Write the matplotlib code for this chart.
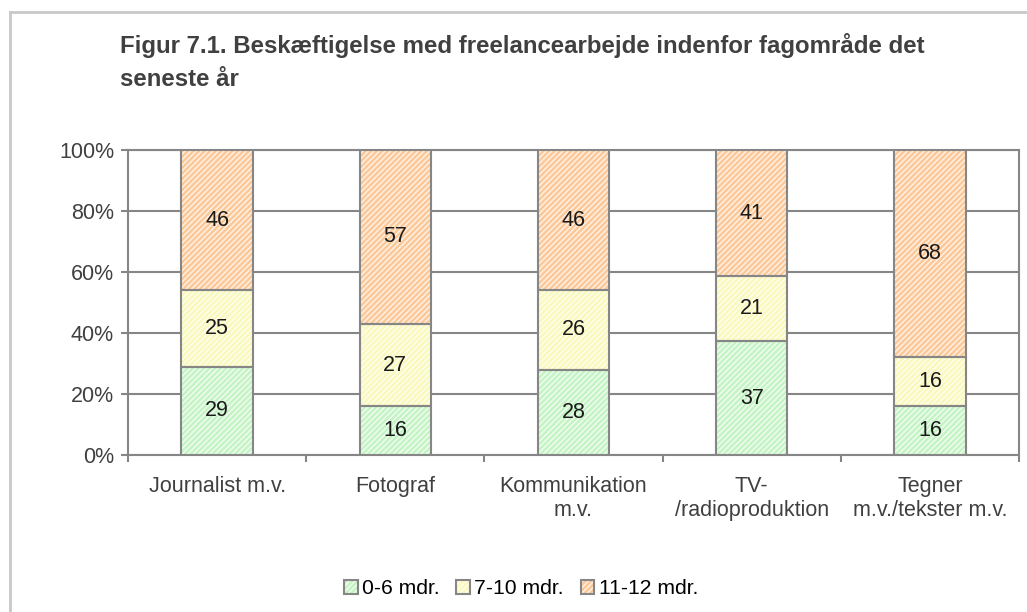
import numpy as np
import matplotlib.pyplot as plt
from matplotlib.lines import Line2D
from matplotlib.patches import Patch
from matplotlib.legend_handler import HandlerTuple

plt.rcParams['font.family'] = ['Liberation Sans', 'DejaVu Sans']
plt.rcParams['hatch.linewidth'] = 1.8

# data
categories = ['Journalist m.v.', 'Fotograf', 'Kommunikation\nm.v.', 'TV-\n/radioproduktion', 'Tegner\nm.v./tekster m.v.']
series = ['0-6 mdr.', '7-10 mdr.', '11-12 mdr.']
v_0_6 = [29, 16, 28, 37, 16]
v_7_10 = [25, 27, 26, 21, 16]
v_11_12 = [46, 57, 46, 41, 68]
hatch_colors = ['#c4f4c4', '#f9f9bc', '#fcc898']
base_colors = ['#f2fdf2', '#fefef2', '#fff3e8']

values = np.array([v_0_6, v_7_10, v_11_12], dtype=float)
shares = values / values.sum(axis=0) * 100  # 100% stacked

fig = plt.figure(figsize=(10.27, 6.12), dpi=100)
ax = fig.add_axes([128/1027, 1 - 455/612, (1019 - 128)/1027, (455 - 150)/612])

x = np.arange(len(categories))
gray = '#868686'
bottom = np.zeros(len(categories))
for i in range(3):
    ax.bar(x, shares[i], 0.4, bottom=bottom, color=base_colors[i], edgecolor=hatch_colors[i],
           hatch='//////', linewidth=0, zorder=3)
    ax.bar(x, shares[i], 0.4, bottom=bottom, fill=False, edgecolor=gray, linewidth=1.5, zorder=4)
    for xi, b, s, v in zip(x, bottom, shares[i], values[i]):
        ax.text(xi, b + s / 2, '%d' % v, ha='center', va='center', fontsize=15.5, color='#1a1a1a', zorder=5)
    bottom += shares[i]

ax.set_xlim(-0.5, len(categories) - 0.5)
ax.set_ylim(0, 100)
ax.set_yticks(np.arange(0, 101, 20))
ax.set_yticklabels(['%d%%' % t for t in range(0, 101, 20)])
ax.yaxis.grid(True, color=gray, linewidth=1.5, zorder=0)
ax.set_axisbelow(True)
for sp in ax.spines.values():
    sp.set_color(gray)
    sp.set_linewidth(1.5)
ax.set_xticks(x)
ax.set_xticklabels(categories)
ax.set_xticks(np.arange(-0.5, len(categories)), minor=True)
ax.tick_params(axis='x', which='major', length=0, pad=15, labelsize=15.5, labelcolor='#404040')
ax.tick_params(axis='x', which='minor', length=5, width=1.5, color=gray)
ax.tick_params(axis='y', length=5, width=1.5, color=gray, labelsize=15.5, labelcolor='#404040', pad=5)

fig.text(120/1027, 1 - 62/612, 'Figur 7.1. Beskæftigelse med freelancearbejde indenfor fagområde det\nseneste år',
         fontsize=17.3, fontweight='bold', color='#404040', ha='left', va='center', linespacing=1.55)

handles = []
for i in range(3):
    fill = Patch(facecolor=base_colors[i], edgecolor=hatch_colors[i], hatch='//////', linewidth=0)
    edge = Patch(facecolor='none', edgecolor=gray, linewidth=1.5)
    handles.append((fill, edge))
fig.legend(handles, series, loc='center', bbox_to_anchor=(521/1027, 1 - 589/612), ncol=3,
           frameon=False, fontsize=15.2, handlelength=0.65, handleheight=0.65, handletextpad=0.2,
           columnspacing=0.8, handler_map={tuple: HandlerTuple(ndivide=1, pad=0)})

# outer chart border (cropped on right and bottom)
fig.add_artist(Line2D([10/1027, 10/1027], [0, 1 - 12/612], color='#c8c8c8', linewidth=2))
fig.add_artist(Line2D([10/1027, 1], [1 - 12/612, 1 - 12/612], color='#c8c8c8', linewidth=2))

fig.savefig('out.png', dpi=100)
